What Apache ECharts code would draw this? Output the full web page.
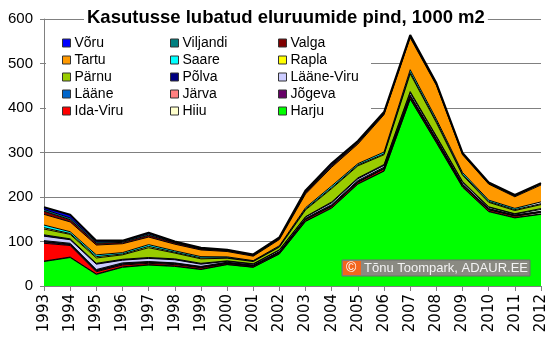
<!DOCTYPE html>
<html>
<head>
<meta charset="utf-8">
<script src="https://cdn.jsdelivr.net/npm/echarts@6/dist/echarts.min.js"></script>
<style>
  html, body { margin: 0; padding: 0; background: #fff; }
  #chart { width: 560px; height: 341px; }
</style>
</head>
<body>
<div id="chart"></div>
<script>
// Years on the category axis
const years = ['1993','1994','1995','1996','1997','1998','1999','2000','2001','2002',
               '2003','2004','2005','2006','2007','2008','2009','2010','2011','2012'];

// Completed dwelling floor area by county, thousand m2 (stacked bottom-up)
const harju     = [55, 64, 26, 42, 47, 44, 37, 48, 42, 72, 145, 175, 229, 258, 420, 322, 222, 167, 153, 161];
const hiiu      = [1, 1, 1, 1, 1, 1, 1, 0.5, 0.5, 0.5, 1, 1, 1, 1, 1, 1, 1, 1, 1, 1];
const idaViru   = [40, 26, 5, 4, 3, 3, 3, 2, 2, 2, 3, 3, 3, 4, 4, 4, 3, 3, 3, 3];
const jogeva    = [3, 2, 2, 2, 2, 2, 1, 1, 1, 1, 1, 1, 1, 1, 1, 1, 1, 1, 1, 1];
const jarva     = [1, 1, 1, 1, 1, 1, 1, 1, 0.5, 1, 1, 1, 1, 1, 1, 1, 1, 1, 0.5, 1];
const laane     = [2, 2, 2, 2, 1, 1, 1, 1, 1, 1, 1, 2, 2, 2, 2, 2, 1, 1, 1, 1];
const laaneViru = [10, 8, 12, 6, 7, 7, 5, 2, 2, 3, 3, 4, 4, 4, 5, 4, 4, 3, 2, 4];
const polva     = [3, 2, 2, 2, 2, 2, 2, 1, 1, 1, 1, 2, 2, 2, 3, 2, 2, 1, 1, 2];
const parnu     = [13, 10, 12, 10, 22, 13, 10, 6, 5, 6, 15, 30, 27, 22, 40, 30, 14, 10, 7, 9];
const rapla     = [3, 2, 3, 2, 3, 2, 2, 1, 1, 1, 2, 2, 2, 2, 3, 3, 2, 2, 2, 2];
const saare     = [6, 4, 4, 3, 4, 3, 3, 2, 1, 2, 3, 4, 3, 4, 6, 5, 4, 3, 3, 4];
const tartu     = [24, 22, 22, 20, 17, 15, 15, 12, 10, 14, 31, 42, 44, 84, 72, 76, 40, 36, 26, 38];
const valga     = [7, 5, 4, 3, 4, 3, 2, 2, 2, 2, 3, 3, 3, 2, 2, 2, 2, 1, 2, 2];
const viljandi  = [4, 4, 3, 2, 3, 1, 1, 1, 1, 1, 2, 2, 2, 2, 2, 2, 1, 2, 1, 1];
const voru      = [5, 7, 3, 2, 3, 2, 2, 1, 1, 2, 3, 4, 2, 2, 2, 1, 1, 1, 1, 1];

// Y axis range
const yMin = 0, yMax = 600, yStep = 100;

// Stack order from bottom to top
const layers = [
  { name: 'Harju',      data: harju,     color: '#00ff00' },
  { name: 'Hiiu',       data: hiiu,      color: '#ffffcc' },
  { name: 'Ida-Viru',   data: idaViru,   color: '#ff0000' },
  { name: 'Jõgeva',     data: jogeva,    color: '#660066' },
  { name: 'Järva',      data: jarva,     color: '#ff8080' },
  { name: 'Lääne',      data: laane,     color: '#0066cc' },
  { name: 'Lääne-Viru', data: laaneViru, color: '#ccccff' },
  { name: 'Põlva',      data: polva,     color: '#000080' },
  { name: 'Pärnu',      data: parnu,     color: '#99cc00' },
  { name: 'Rapla',      data: rapla,     color: '#ffff00' },
  { name: 'Saare',      data: saare,     color: '#00ffff' },
  { name: 'Tartu',      data: tartu,     color: '#ff9900' },
  { name: 'Valga',      data: valga,     color: '#800000' },
  { name: 'Viljandi',   data: viljandi,  color: '#008080' },
  { name: 'Võru',       data: voru,      color: '#0000ff' }
];

// Legend columns
const legendCols = [
  ['Võru', 'Tartu', 'Pärnu', 'Lääne', 'Ida-Viru'],
  ['Viljandi', 'Saare', 'Põlva', 'Järva', 'Hiiu'],
  ['Valga', 'Rapla', 'Lääne-Viru', 'Jõgeva', 'Harju']
];
const legendX = [62, 170, 278];

const FONT = '"Liberation Sans", Arial, sans-serif';

const chart = echarts.init(document.getElementById('chart'), null, { renderer: 'canvas' });

const series = layers.map((l, i) => ({
  name: l.name,
  type: 'line',
  stack: 'total',
  data: l.data,
  symbol: 'none',
  smooth: false,
  color: l.color,
  itemStyle: { color: l.color, borderColor: '#222', borderWidth: 1 },
  lineStyle: { color: '#000', width: i === layers.length - 1 ? 2 : 1 },
  areaStyle: { color: l.color, opacity: 1 },
  emphasis: { disabled: true }
}));

const option = {
  animation: false,
  backgroundColor: '#ffffff',
  title: {
    text: 'Kasutusse lubatud eluruumide pind, 1000 m2',
    left: 84,
    top: 7,
    padding: [1, 3, 1, 3],
    backgroundColor: '#ffffff',
    textStyle: { fontFamily: FONT, fontSize: 18.5, fontWeight: 'bold', color: '#000' }
  },
  legend: legendCols.map((names, c) => ({
    data: names,
    orient: 'vertical',
    left: legendX[c],
    top: 35,
    padding: 0,
    itemGap: 1,
    itemWidth: 8,
    itemHeight: 8,
    icon: 'rect',
    selectedMode: false,
    itemStyle: { borderColor: '#333', borderWidth: 1 },
    textStyle: { fontFamily: FONT, fontSize: 14, color: '#000', lineHeight: 16, padding: [0, 0, 0, -1] }
  })),
  graphic: [
    // white panel behind the legend
    { type: 'rect', z: 3, shape: { x: 46, y: 30, width: 325, height: 90 }, style: { fill: '#ffffff' } },
    // author credit box
    { type: 'rect', z: 20, shape: { x: 342, y: 260, width: 188, height: 16 }, style: { fill: '#8a8a82', stroke: '#6e6e6e', lineWidth: 1 } },
    { type: 'rect', z: 21, shape: { x: 343, y: 261, width: 18, height: 14 }, style: { fill: '#f2651e' } },
    { type: 'text', z: 22, x: 346, y: 261, style: { text: '©', fill: '#ffffff', font: '14px ' + FONT } },
    { type: 'text', z: 22, x: 364, y: 262, style: { text: 'Tõnu Toompark, ADAUR.EE', fill: '#f4f4f4', font: '13px ' + FONT } }
  ],
  grid: { left: 44, right: 19, top: 19, bottom: 55, containLabel: false },
  xAxis: {
    type: 'category',
    data: years,
    boundaryGap: false,
    axisLine: { lineStyle: { color: '#808080', width: 1 } },
    axisTick: { length: 5, lineStyle: { color: '#808080' } },
    axisLabel: {
      rotate: 90,
      interval: 0,
      margin: 8,
      fontFamily: '"DejaVu Sans", sans-serif',
      fontSize: 15,
      color: '#000'
    },
    splitLine: { show: false }
  },
  yAxis: {
    type: 'value',
    min: yMin,
    max: yMax,
    interval: yStep,
    axisLine: { show: true, lineStyle: { color: '#808080' } },
    axisTick: { show: true, length: 4, lineStyle: { color: '#808080' } },
    axisLabel: { fontFamily: FONT, fontSize: 15, color: '#000', margin: 11 },
    splitLine: { show: true, lineStyle: { color: '#808080', width: 1 } }
  },
  series: series
};

chart.setOption(option);
</script>
</body>
</html>
